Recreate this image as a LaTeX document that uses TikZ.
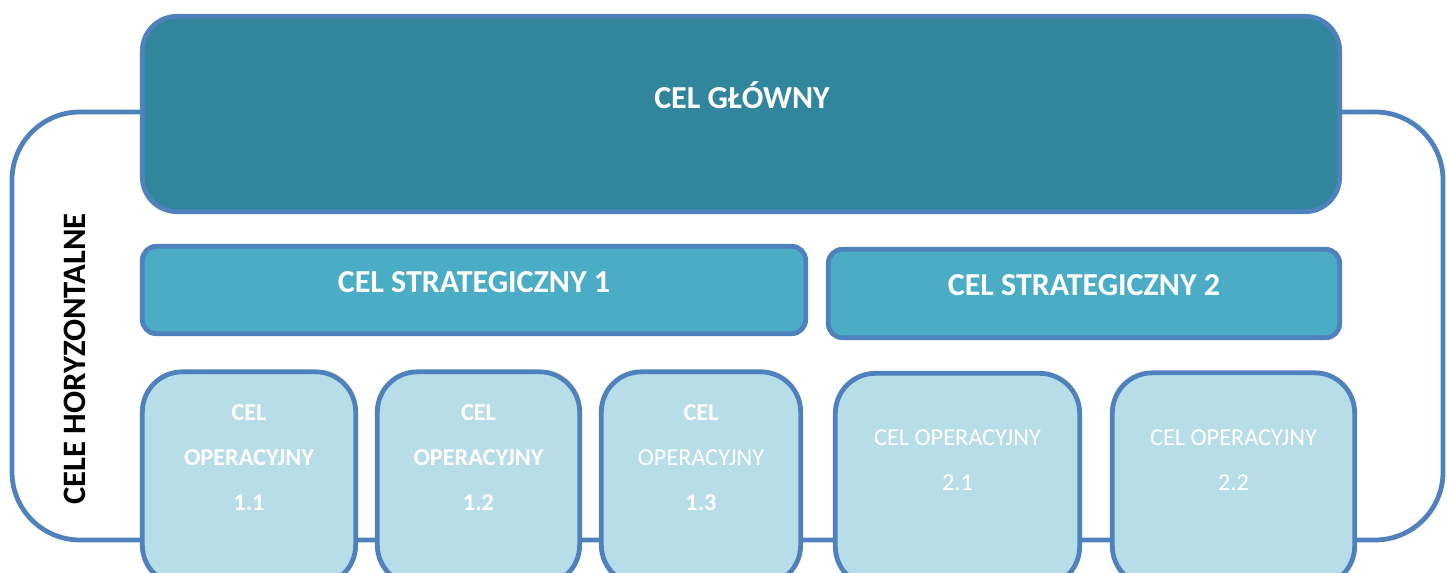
\documentclass[tikz,border=0pt]{standalone}
\usepackage{fontspec}
\setmainfont{Carlito}
\definecolor{edge}{HTML}{4F81BD}
\definecolor{mainfill}{HTML}{31859C}
\definecolor{stratfill}{HTML}{4BACC6}
\definecolor{opfill}{HTML}{B7DDE8}
\begin{document}
\begin{tikzpicture}[x=0.75pt,y=-0.75pt,
  frameline/.style={draw=edge,line width=3.6pt,rounded corners=51pt},
  mainbox/.style={draw=edge,fill=mainfill,line width=3.6pt,rounded corners=26pt,minimum width=898pt,minimum height=146.5pt,inner sep=0pt},
  stratbox/.style={draw=edge,fill=stratfill,line width=3.6pt,rounded corners=10.5pt,minimum height=65.5pt,inner sep=0pt},
  opbox/.style={draw=edge,fill=opfill,line width=3.6pt,rounded corners=30pt,minimum height=160pt,inner sep=0pt},
  bigtext/.style={text=white,font=\fontsize{24}{28}\selectfont\bfseries},
  optext/.style={text=white,font=\fontsize{18.2}{33.75}\selectfont,align=center,inner sep=0pt},
  sidetext/.style={text=black,font=\fontsize{24.5}{28}\selectfont\bfseries,rotate=90}]
\useasboundingbox (0,0) rectangle (1447,573);
\clip (0,0) rectangle (1447,573);
\draw[frameline] (12,112) rectangle (1443,540);
\node[mainbox] (main) at (741,114) {};
\node[bigtext] (maint) at (742,95) {CEL GŁÓWNY};
\node[stratbox,minimum width=497.5pt] (s1) at (474,290) {};
\node[bigtext] (s1t) at (474,282) {CEL STRATEGICZNY 1};
\node[stratbox,minimum width=383.5pt,minimum height=66.25pt] (s2) at (1084,293.5) {};
\node[bigtext] (s2t) at (1084,285) {CEL STRATEGICZNY 2};
\node[opbox,minimum width=160pt] (o11) at (249,478.5) {};
\node[opbox,minimum width=151.75pt] (o12) at (478.5,478.5) {};
\node[opbox,minimum width=149.5pt] (o13) at (701,478.5) {};
\node[opbox,minimum width=183.25pt] (o21) at (957.5,480) {};
\node[opbox,minimum width=181.75pt] (o22) at (1233.5,479.5) {};
\node[optext] (o11t) at (249,458) {\bfseries CEL\\\bfseries OPERACYJNY\\\bfseries 1.1};
\node[optext] (o12t) at (478.5,458) {\bfseries CEL\\\bfseries OPERACYJNY\\\bfseries 1.2};
\node[optext] (o13t) at (701,458) {\bfseries CEL\\OPERACYJNY\\\bfseries 1.3};
\node[optext] (o21t) at (957.5,460) {CEL OPERACYJNY\\2.1};
\node[optext] (o22t) at (1233.5,460) {CEL OPERACYJNY\\2.2};
\node[sidetext] (side) at (75,359) {CELE HORYZONTALNE};
\end{tikzpicture}
\end{document}
